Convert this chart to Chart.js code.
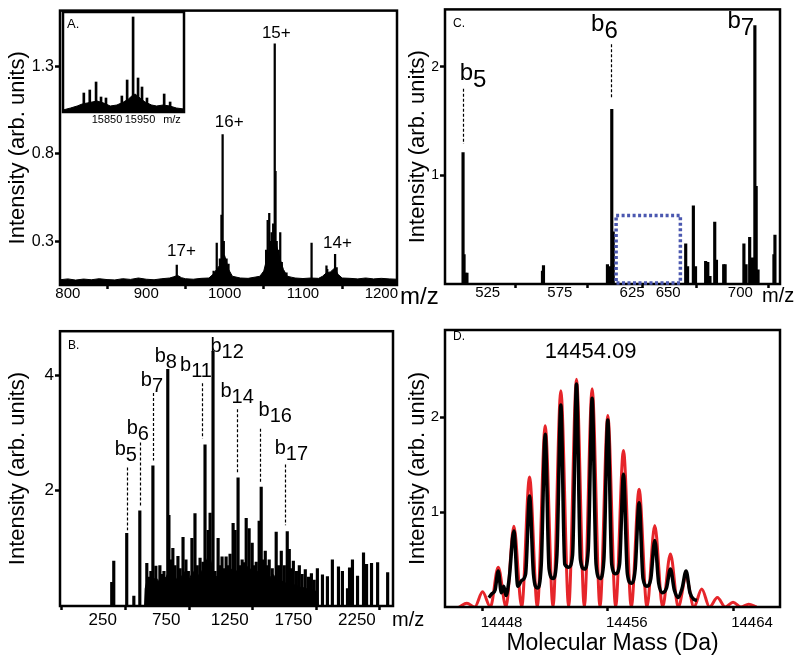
<!DOCTYPE html>
<html>
<head>
<meta charset="utf-8">
<script src="https://cdn.jsdelivr.net/npm/chart.js@4.4.0/dist/chart.umd.min.js"></script>
<style>
  body { margin: 0; background: #fff; }
  #wrap { position: relative; width: 800px; height: 663px; font-family: "Liberation Sans", Arial, sans-serif; }
  canvas { position: absolute; }
  .mz { position: absolute; color: #000; line-height: 1; white-space: nowrap; }
</style>
</head>
<body>
<div id="wrap">
  <canvas id="chartA" width="400" height="320" style="left:0;top:0"></canvas>
  <canvas id="chartC" width="400" height="320" style="left:400px;top:0"></canvas>
  <canvas id="chartB" width="400" height="343" style="left:0;top:320px"></canvas>
  <canvas id="chartD" width="400" height="343" style="left:400px;top:320px"></canvas>
  <canvas id="insetA" width="125" height="120" style="left:61px;top:10px"></canvas>
  <span class="mz" style="left:400px;top:284px;font-size:24px">m/z</span>
  <span class="mz" style="left:762px;top:285px;font-size:20px">m/z</span>
  <span class="mz" style="left:392px;top:609px;font-size:20px">m/z</span>
</div>
<script>
// ---- panel A: charge state envelope ----
const xTicksA = [800, 900, 1000, 1100, 1200];
const yTicksA = [0.3, 0.8, 1.3];
const sticksA = [[939,0.164],[986,0.13],[990,0.29],[994,0.2],[996,0.45],[997.5,0.91],[999,0.3],[1002.5,0.2],[1005,0.17],
  [1053,0.25],[1055,0.42],[1057,0.46],[1058.5,0.3],[1060,0.35],[1062,0.4],[1064,1.43],[1065,0.7],[1066.5,0.3],
  [1069,0.25],[1071,0.35],[1073,0.18],[1079,0.12],[1111,0.29],[1130,0.16],[1131,0.14],[1136,0.12],[1141,0.226],[1143,0.15]];
const noiseA = [[790,0.08],[800,0.085],[810,0.078],[820,0.084],[830,0.08],[840,0.086],[850,0.081],[860,0.079],[870,0.086],
  [880,0.082],[890,0.09],[900,0.083],[910,0.08],[920,0.086],[930,0.09],[935,0.097],[940,0.105],[945,0.092],[950,0.086],
  [960,0.083],[970,0.088],[980,0.09],[985,0.11],[990,0.14],[995,0.17],[1000,0.22],[1005,0.14],[1010,0.1],[1020,0.09],
  [1030,0.088],[1040,0.096],[1045,0.1],[1050,0.13],[1055,0.22],[1060,0.27],[1065,0.3],[1070,0.21],[1075,0.14],[1080,0.1],
  [1085,0.095],[1090,0.09],[1100,0.087],[1110,0.09],[1120,0.088],[1125,0.1],[1130,0.12],[1135,0.125],[1140,0.145],
  [1145,0.11],[1150,0.09],[1160,0.088],[1170,0.085],[1180,0.09],[1190,0.085],[1200,0.088],[1210,0.085],[1220,0.083]];
const chargeLabels = ['17+', '16+', '15+', '14+'];
const chargeMz = [945, 1006, 1066, 1144];
const chargeInt = [0.245, 0.98, 1.49, 0.29];

// inset of panel A (deconvoluted)
const xTicksInset = [15850, 15950];
const sticksInset = [[15780,0.19],[15798,0.22],[15817,0.30],[15832,0.15],[15847,0.14],[15895,0.16],[15911,0.32],
  [15929,0.95],[15944,0.34],[15956,0.25],[15971,0.14],[16023,0.18],[16041,0.10]];
const baseInset = [[15717,0.02],[15740,0.04],[15760,0.06],[15775,0.08],[15790,0.09],[15805,0.1],[15820,0.11],[15840,0.09],
  [15860,0.06],[15880,0.07],[15900,0.1],[15915,0.13],[15925,0.16],[15935,0.18],[15950,0.14],[15965,0.1],[15985,0.07],
  [16000,0.06],[16020,0.07],[16040,0.06],[16060,0.04],[16083,0.03]];

// ---- panel B: fragment spectrum ----
const xTicksB = [250, 750, 1250, 1750, 2250];
const yTicksB = [2, 4];
const sticksB = [[392,0.41],[408,0.78],[510,1.26],[566,0.17],[613,1.65],[668,0.74],[684,0.5],[700,0.6],[716,2.43],[739,0.69],
  [771,0.7],[790,0.55],[803,0.6],[833,4.1],[842,1.57],[858,0.8],[873,1.0],[890,0.7],[913,0.86],[930,0.65],[953,1.19],
  [976,0.8],[995,0.6],[1023,1.17],[1047,1.6],[1065,0.7],[1087,0.83],[1110,0.76],[1126,2.79],[1150,1.31],[1166,1.61],
  [1189,4.41],[1205,0.6],[1229,1.17],[1245,0.7],[1260,0.85],[1276,0.65],[1292,0.85],[1308,0.7],[1323,0.9],[1347,1.43],
  [1363,1.31],[1386,2.22],[1402,0.7],[1418,0.8],[1434,0.75],[1450,1.52],[1473,1.34],[1497,1.09],[1513,0.7],[1529,0.76],
  [1552,1.47],[1568,2.06],[1584,0.8],[1600,0.95],[1615,0.7],[1631,0.8],[1655,0.65],[1686,1.28],[1705,0.7],[1726,0.95],
  [1750,0.7],[1773,1.29],[1789,0.98],[1805,0.65],[1821,0.78],[1845,0.6],[1868,0.7],[1890,0.55],[1915,0.63],[1940,0.5],
  [1963,0.56],[1985,0.45],[2010,0.65],[2050,0.54],[2089,0.51],[2128,0.8],[2176,0.68],[2207,0.6],[2247,0.3],[2263,0.66],
  [2286,0.8],[2326,0.52],[2373,0.92],[2397,0.72],[2436,0.74],[2484,0.75],[2563,0.58]];
const massB = [[650,0],[655,0.3],[670,0.45],[690,0.38],[700,0.55],[720,0.45],[740,0.5],[760,0.42],[780,0.55],[800,0.48],
  [820,0.5],[840,0.6],[860,0.5],[880,0.55],[900,0.45],[920,0.55],[940,0.5],[960,0.6],[980,0.5],[1000,0.45],[1020,0.55],
  [1040,0.6],[1060,0.5],[1080,0.55],[1100,0.6],[1120,0.7],[1140,0.8],[1160,0.9],[1180,0.7],[1200,0.55],[1220,0.5],
  [1240,0.5],[1260,0.55],[1280,0.6],[1300,0.58],[1320,0.6],[1340,0.65],[1360,0.62],[1380,0.6],[1400,0.62],[1420,0.65],
  [1440,0.7],[1460,0.68],[1480,0.65],[1500,0.6],[1520,0.58],[1540,0.6],[1560,0.62],[1580,0.55],[1600,0.52],[1620,0.5],
  [1640,0.5],[1660,0.55],[1680,0.5],[1700,0.45],[1720,0.45],[1740,0.42],[1760,0.4],[1780,0.42],[1800,0.38],[1820,0.38],
  [1840,0.35],[1860,0.35],[1880,0.32],[1900,0.32],[1920,0.3],[1940,0.3],[1960,0.28],[1980,0.28],[2000,0.25],[2010,0.2],[2015,0]];
const ionNumB = ['5', '6', '7', '8', '11', '12', '14', '16', '17'];
const dashMzB = [510, 612, 714, null, 1105, null, 1380, 1556, 1758];
const dashTopB = [2.4, 2.83, 3.69, null, 3.86, null, 3.41, 3.07, 2.45];
const dashBotB = [1.31, 1.71, 2.52, null, 2.9, null, 2.31, 2.14, 1.40];
const labelMzB = [503, 597, 708, 818, 1055, 1300, 1379, 1679, 1805];
const labelIntB = [2.71, 3.07, 3.9, 4.33, 4.16, 4.5, 3.72, 3.38, 2.72];

// ---- panel C: zoomed fragment region ----
const xTicksC = [525, 575, 625, 650, 700];
const yTicksC = [1, 2];
const sticksC = [[513.5,1.21],[514.2,0.27],[515.3,0.1],[516.2,0.1],[568.5,0.12],[569.2,0.17],[613.5,0.18],[615,0.16],
  [616.5,1.61],[617.5,0.48],[667.7,0.37],[669,0.16],[673,0.72],[674.5,0.16],[681.5,0.21],[683,0.2],[684.5,0.07],
  [687.8,0.57],[689,0.22],[694,0.18],[695,0.18],[708,0.37],[709.5,0.18],[712,0.43],[714,0.24],[715.6,2.38],[716.5,0.9],
  [717.8,0.13],[728.8,0.27],[729.5,0.45]];
const boxMzC = [619.5, 664];
const boxTopC = 0.63;
const ionNumC = ['5', '6', '7'];
const dashMzC = [513.5, 616, null];
const dashTopC = [1.8, 2.21, null];
const dashBotC = [1.29, 1.71, null];
const labelMzC = [520.4, 611.4, 705.9];
const labelIntC = [1.94, 2.39, 2.42];

// ---- panel D: deconvoluted isotope distribution ----
const xTicksD = [14448, 14456, 14464];
const yTicksD = [1, 2];
const measuredD = [[14448.4,0.10],[14448.6,0.14],[14448.8,0.18],[14449.0,0.38],[14449.2,0.15],[14449.35,0.22],[14449.5,0.12],
  [14449.7,0.30],[14450.0,0.80],[14450.25,0.22],[14450.5,0.28],[14450.75,0.35],[14451.0,1.17],[14451.25,0.35],[14451.5,0.20],
  [14451.75,0.45],[14452.0,1.82],[14452.25,0.40],[14452.5,0.30],[14452.75,0.55],[14453.0,2.13],[14453.25,0.45],[14453.5,0.42],
  [14453.75,0.55],[14454.0,2.35],[14454.25,0.50],[14454.5,0.40],[14454.75,0.60],[14455.0,2.20],[14455.25,0.45],[14455.5,0.30],
  [14455.75,0.50],[14456.0,1.97],[14456.25,0.45],[14456.5,0.35],[14456.75,0.45],[14457.0,1.40],[14457.25,0.35],[14457.5,0.25],
  [14457.75,0.40],[14458.0,1.10],[14458.25,0.30],[14458.5,0.22],[14458.75,0.30],[14459.0,0.70],[14459.25,0.25],[14459.5,0.15],
  [14459.75,0.20],[14460.0,0.40],[14460.25,0.18],[14460.5,0.10],[14460.75,0.20],[14461.0,0.38],[14461.25,0.15],[14461.5,0.08],
  [14461.7,0.07]];
const theoryD = [[14446.5,0],[14447,0.04],[14447.5,0],[14448,0.16],[14448.5,0],[14449,0.42],[14449.5,0],[14450,0.85],
  [14450.5,0],[14451,1.37],[14451.5,0],[14452,1.91],[14452.5,0],[14453,2.28],[14453.5,0],[14454,2.4],[14454.5,0],
  [14455,2.3],[14455.5,0],[14456,2.02],[14456.5,0],[14457,1.65],[14457.5,0],[14458,1.24],[14458.5,0],[14459,0.86],
  [14459.5,0],[14460,0.56],[14460.5,0],[14461,0.31],[14461.5,0],[14462,0.19],[14462.5,0],[14463,0.1],[14463.5,0],
  [14464,0.05],[14464.5,0],[14465,0.03],[14465.5,0]];
const massLabelD = '14454.09';

const FONT = '"Liberation Sans", Arial, sans-serif';
Chart.defaults.font.family = FONT;
Chart.defaults.color = '#000';

function pts(list) { return list.map(p => ({ x: p[0], y: p[1] })); }

function makeScales(o) {
  return {
    x: {
      type: 'linear', min: o.xMin, max: o.xMax, offset: false,
      afterBuildTicks: s => { s.ticks = o.xTicks.map(v => ({ value: v })); },
      afterFit: s => { s.height = o.xH; },
      grid: { display: o.xMarks !== false, drawOnChartArea: false, tickLength: 4, tickWidth: 2.5, tickColor: '#000' },
      border: { display: false },
      ticks: { color: '#000', font: { size: o.xFont }, padding: o.xPad, labelOffset: o.xOff || 0,
        maxRotation: 0, minRotation: 0, autoSkip: false, callback: v => String(v) },
      title: o.xTitle ? { display: true, text: o.xTitle, color: '#000', font: { size: 23 }, padding: { top: 0, bottom: 6 } }
                      : { display: false }
    },
    y: o.yHide ? { display: false, min: o.yMin, max: o.yMax } : {
      min: o.yMin, max: o.yMax,
      afterBuildTicks: s => { s.ticks = o.yTicks.map(v => ({ value: v })); },
      afterFit: s => { s.width = o.yW; },
      grid: { drawOnChartArea: false, tickLength: 5, tickWidth: 2.5, tickColor: '#000' },
      border: { display: false },
      ticks: { color: '#000', font: { size: o.yFont }, padding: 1, callback: v => String(v) },
      title: { display: true, text: 'Intensity (arb. units)', color: '#000', font: { size: 22 }, padding: { top: 5, bottom: 0 } }
    }
  };
}

function baseOptions(pad, scales) {
  return {
    responsive: false, animation: false, devicePixelRatio: 1, events: [],
    layout: { padding: pad },
    plugins: { legend: { display: false }, tooltip: { enabled: false } },
    scales: scales
  };
}

const frame = {
  id: 'frame',
  afterDatasetsDraw(chart) {
    const { ctx, chartArea: a } = chart;
    ctx.save();
    ctx.strokeStyle = '#000';
    ctx.lineWidth = 2.5;
    ctx.strokeRect(a.left, a.top, a.right - a.left, a.bottom - a.top);
    ctx.restore();
  }
};

function cornerLabel(text, dx, dy, size) {
  return {
    id: 'corner',
    afterDraw(chart) {
      const { ctx, chartArea: a } = chart;
      ctx.save();
      ctx.fillStyle = '#000';
      ctx.font = size + 'px ' + FONT;
      ctx.textAlign = 'left';
      ctx.textBaseline = 'middle';
      ctx.fillText(text, a.left + dx, a.top + dy);
      ctx.restore();
    }
  };
}

// b-ion label with lowered number, plus its dashed guide line
function ionPlugin(nums, dashMz, dashTop, dashBot, labMz, labInt, size) {
  return {
    id: 'ions',
    afterDraw(chart) {
      const { ctx } = chart;
      const xs = chart.scales.x, ys = chart.scales.y;
      ctx.save();
      ctx.fillStyle = '#000';
      ctx.strokeStyle = '#000';
      ctx.lineWidth = 1.2;
      ctx.setLineDash([3, 2]);
      nums.forEach((n, i) => {
        if (dashMz[i] !== null) {
          const x = Math.round(xs.getPixelForValue(dashMz[i])) + 0.5;
          ctx.beginPath();
          ctx.moveTo(x, ys.getPixelForValue(dashTop[i]));
          ctx.lineTo(x, ys.getPixelForValue(dashBot[i]));
          ctx.stroke();
        }
      });
      ctx.setLineDash([]);
      ctx.font = size + 'px ' + FONT;
      ctx.textBaseline = 'middle';
      ctx.textAlign = 'left';
      nums.forEach((n, i) => {
        const cx = xs.getPixelForValue(labMz[i]);
        const cy = ys.getPixelForValue(labInt[i]);
        const wb = ctx.measureText('b').width;
        const wn = ctx.measureText(n).width;
        const x0 = cx - (wb + wn) / 2;
        ctx.fillText('b', x0, cy);
        ctx.fillText(n, x0 + wb, cy + size * 0.3);
      });
      ctx.restore();
    }
  };
}

// Panel A
new Chart(document.getElementById('chartA'), {
  type: 'bar',
  data: { datasets: [
    { type: 'bar', data: pts(sticksA), backgroundColor: '#000', barThickness: 1.6, grouped: false },
    { type: 'line', data: pts(noiseA), borderColor: '#000', borderWidth: 1, backgroundColor: '#000',
      fill: 'start', pointRadius: 0, tension: 0 }
  ] },
  options: baseOptions({ top: 8, right: 3, left: 0, bottom: 0 }, makeScales({
    xMin: 790, xMax: 1220, xTicks: xTicksA, xH: 35, xFont: 15, xPad: -4,
    yMin: 0.05, yMax: 1.62, yTicks: yTicksA, yW: 60, yFont: 16
  })),
  plugins: [frame, {
    id: 'charge',
    afterDraw(chart) {
      const { ctx } = chart;
      ctx.save();
      ctx.fillStyle = '#000';
      ctx.font = '17px ' + FONT;
      ctx.textAlign = 'center';
      ctx.textBaseline = 'middle';
      chargeLabels.forEach((t, i) => {
        ctx.fillText(t, chart.scales.x.getPixelForValue(chargeMz[i]), chart.scales.y.getPixelForValue(chargeInt[i]));
      });
      ctx.restore();
    }
  }]
});

// Inset of panel A
new Chart(document.getElementById('insetA'), {
  type: 'bar',
  data: { datasets: [
    { type: 'bar', data: pts(sticksInset), backgroundColor: '#000', barThickness: 2, grouped: false },
    { type: 'line', data: pts(baseInset), borderColor: '#000', borderWidth: 1, backgroundColor: '#000',
      fill: 'start', pointRadius: 0, tension: 0 }
  ] },
  options: baseOptions({ top: 2, right: 2, left: 2, bottom: 0 }, makeScales({
    xMin: 15717, xMax: 16083, xTicks: xTicksInset, xH: 18, xFont: 11, xPad: -3, xMarks: false,
    yMin: 0, yMax: 1, yHide: true
  })),
  plugins: [{
    id: 'bg',
    beforeDraw(chart) {
      const { ctx, chartArea: a } = chart;
      ctx.save();
      ctx.fillStyle = '#fff';
      ctx.fillRect(a.left, a.top, a.right - a.left, a.bottom - a.top);
      ctx.restore();
    },
    afterDraw(chart) {
      const { ctx, chartArea: a } = chart;
      ctx.save();
      ctx.fillStyle = '#000';
      ctx.font = '11px ' + FONT;
      ctx.textAlign = 'center';
      ctx.textBaseline = 'top';
      ctx.fillText('m/z', a.left + 109, a.bottom + 2);
      ctx.restore();
    }
  }, frame, cornerLabel('A.', 4, 12, 13)]
});

// Panel B
new Chart(document.getElementById('chartB'), {
  type: 'bar',
  data: { datasets: [
    { type: 'bar', data: pts(sticksB), backgroundColor: '#000', barThickness: 2.5, grouped: false },
    { type: 'line', data: pts(massB), borderColor: '#000', borderWidth: 1, backgroundColor: '#000',
      fill: 'start', pointRadius: 0, tension: 0 }
  ] },
  options: baseOptions({ top: 8, right: 7, left: 0, bottom: 0 }, makeScales({
    xMin: -15, xMax: 2605, xTicks: xTicksB, xH: 57, xFont: 17, xPad: 0, xOff: 9,
    yMin: 0, yMax: 4.76, yTicks: yTicksB, yW: 60, yFont: 17
  })),
  plugins: [frame, cornerLabel('B.', 8, 14, 12),
    ionPlugin(ionNumB, dashMzB, dashTopB, dashBotB, labelMzB, labelIntB, 20)]
});

// Panel C
new Chart(document.getElementById('chartC'), {
  type: 'bar',
  data: { datasets: [
    { type: 'bar', data: pts(sticksC), backgroundColor: '#000', barThickness: 2.5, grouped: false }
  ] },
  options: baseOptions({ top: 8, right: 20, left: 0, bottom: 0 }, makeScales({
    xMin: 501, xMax: 733, xTicks: xTicksC, xH: 36, xFont: 15, xPad: -4, xOff: 8,
    yMin: 0, yMax: 2.53, yTicks: yTicksC, yW: 45, yFont: 14
  })),
  plugins: [frame, cornerLabel('C.', 8, 14, 12),
    ionPlugin(ionNumC, dashMzC, dashTopC, dashBotC, labelMzC, labelIntC, 24), {
    id: 'zoomBox',
    afterDraw(chart) {
      const { ctx } = chart;
      const xs = chart.scales.x, ys = chart.scales.y;
      ctx.save();
      ctx.strokeStyle = '#4b58b0';
      ctx.lineWidth = 3.5;
      ctx.setLineDash([3, 2.5]);
      const x0 = xs.getPixelForValue(boxMzC[0]), x1 = xs.getPixelForValue(boxMzC[1]);
      const y0 = ys.getPixelForValue(boxTopC), y1 = ys.getPixelForValue(0) - 1;
      ctx.strokeRect(x0, y0, x1 - x0, y1 - y0);
      ctx.restore();
    }
  }]
});

// Panel D
new Chart(document.getElementById('chartD'), {
  type: 'line',
  data: { datasets: [
    { data: pts(measuredD), borderColor: '#000', borderWidth: 3.5, pointRadius: 0,
      cubicInterpolationMode: 'monotone', order: 0 },
    { data: pts(theoryD), borderColor: '#e6252a', borderWidth: 3, pointRadius: 0,
      cubicInterpolationMode: 'monotone', order: 1 }
  ] },
  options: baseOptions({ top: 8, right: 20, left: 0, bottom: 0 }, makeScales({
    xMin: 14445.6, xMax: 14467, xTicks: xTicksD, xH: 56, xFont: 15, xPad: 3, xOff: 19, xTitle: 'Molecular Mass (Da)',
    yMin: 0, yMax: 2.92, yTicks: yTicksD, yW: 45, yFont: 15
  })),
  plugins: [frame, cornerLabel('D.', 8, 7, 12), {
    id: 'massLabel',
    afterDraw(chart) {
      const { ctx } = chart;
      ctx.save();
      ctx.fillStyle = '#000';
      ctx.font = '22px ' + FONT;
      ctx.textAlign = 'center';
      ctx.textBaseline = 'middle';
      ctx.fillText(massLabelD, chart.scales.x.getPixelForValue(14454.9), chart.scales.y.getPixelForValue(2.69));
      ctx.restore();
    }
  }]
});
</script>
</body>
</html>
